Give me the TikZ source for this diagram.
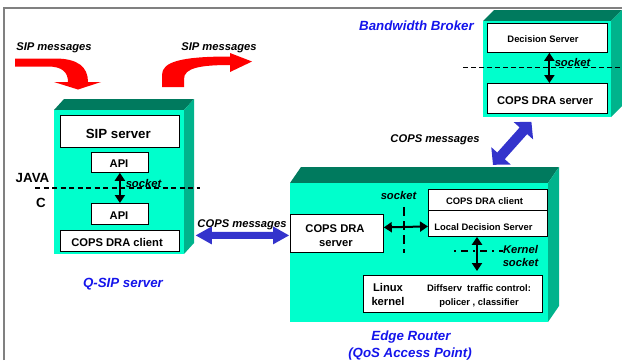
\documentclass[tikz,border=0pt]{standalone}
\usepackage{fontspec}
\setmainfont{Liberation Sans}
\usetikzlibrary{arrows.meta,calc}
\definecolor{frontc}{RGB}{0,255,204}
\definecolor{topc}{RGB}{0,122,94}
\definecolor{sidec}{RGB}{0,179,140}
\definecolor{copsblue}{RGB}{51,51,204}
\definecolor{lblblue}{RGB}{20,20,235}
\definecolor{framegray}{RGB}{128,128,128}
\definecolor{sipred}{RGB}{255,0,0}
\newcommand\cubebox[6]{%
  \fill[topc] (#1,#2) -- ++(#5,#6) -- ++({#3-(#1)},0) -- (#3,#2) -- cycle;
  \fill[sidec] (#3,#2) -- ++(#5,#6) -- ++(0,{#4-(#2)}) -- (#3,#4) -- cycle;
  \fill[frontc] (#1,#2) rectangle (#3,#4);
}
\newcommand\fatarrow[5]{%
  \coordinate (fa1) at ($(#1)!#3!(#2)$);
  \coordinate (fa2) at ($(#2)!#3!(#1)$);
  \fill[copsblue] (#1) -- ($(fa1)!#4!90:(#2)$) -- ($(fa1)!#5!90:(#2)$)
    -- ($(fa2)!#5!-90:(#1)$) -- ($(fa2)!#4!-90:(#1)$) -- (#2)
    -- ($(fa2)!#4!90:(#1)$) -- ($(fa2)!#5!90:(#1)$)
    -- ($(fa1)!#5!-90:(#2)$) -- ($(fa1)!#4!-90:(#2)$) -- cycle;
}
\tikzset{
  wbox/.style={draw=black, line width=0.8pt, fill=white, inner sep=0pt, anchor=north west},
  tbig/.style={font=\fontsize{13.3}{16}\selectfont\bfseries, inner sep=0pt, anchor=base},
  tbigi/.style={font=\fontsize{13.3}{16}\selectfont\bfseries\itshape, inner sep=0pt, anchor=base},
  tmed/.style={font=\fontsize{11.2}{14}\selectfont\bfseries, inner sep=0pt, anchor=base},
  tmedi/.style={font=\fontsize{11.2}{14}\selectfont\bfseries\itshape, inner sep=0pt, anchor=base},
  tsmall/.style={font=\fontsize{9.4}{12}\selectfont\bfseries, inner sep=0pt, anchor=base},
  dbl/.style={<->, >={Triangle[length=8pt,width=10pt]}, line width=2pt},
  dashL/.style={dash pattern=on 5pt off 3.5pt, line width=1.8pt},
  dashV/.style={dash pattern=on 9pt off 5pt, line width=2.2pt},
  dashH/.style={dash pattern=on 2pt off 5pt on 7pt off 5pt, line width=2.2pt},
  dashT/.style={dash pattern=on 5pt off 3pt, line width=1pt},
}
\begin{document}
\begin{tikzpicture}[x=1pt,y=-1pt]
\useasboundingbox (0,0) rectangle (622,360);
\draw[framegray, line width=2pt] (4,360) -- (4,8) -- (622,8);

% SIP message arrows
\fill[sipred] (15,58.5) -- (55,58.5) .. controls (78,58.5) and (88,67) .. (88,82)
  -- (101,82) -- (78,89.5) -- (54,82) -- (68,82)
  .. controls (68,72) and (62,66.5) .. (48,66.5) -- (15,66.5) -- cycle;
\fill[sipred] (162,87) -- (162,75) .. controls (162,62) and (180,56.5) .. (230,56.5)
  -- (230,53) -- (252,61.5) -- (230,72) -- (230,65)
  .. controls (200,65) and (184,68) .. (184,79) -- (184,87) -- cycle;

% 3D boxes
\cubebox{54}{110}{184}{254}{10}{-11}
\cubebox{290}{183}{548}{322}{11}{-16}
\cubebox{483}{21}{611}{117}{11}{-11}

% Q-SIP server inner boxes
\node[wbox, minimum width=119, minimum height=32] (sipsrv) at (60,115) {};
\node[wbox, minimum width=57, minimum height=20] (api1) at (91,152) {};
\node[wbox, minimum width=57, minimum height=21] (api2) at (91,203) {};
\node[wbox, minimum width=119, minimum height=21] (clientL) at (60,230) {};

% Edge router inner boxes
\node[wbox, minimum width=93, minimum height=38] (drasrv) at (290,214) {};
\node[wbox, minimum width=119, minimum height=21] (erclient) at (428,189) {};
\node[wbox, minimum width=119, minimum height=26] (lds) at (428,210) {};
\node[wbox, minimum width=179, minimum height=37] (linux) at (363,275) {};

% Bandwidth broker inner boxes
\node[wbox, minimum width=120, minimum height=29] (decsrv) at (487,23) {};
\node[wbox, minimum width=120, minimum height=30] (bbdra) at (487,83) {};

% dashed boundaries
\draw[dashL] (35,188) -- (200,188);
\draw[dashV] (404,207) -- (404,253);
\draw[dashH] (454,251) -- (503,251);
\draw[dashT] (463,67) -- (622,67);

% black socket arrows
\draw[dbl] (api1.south) -- (api2.north);
\draw[dbl] ($(decsrv.south)+(2,0)$) -- ($(bbdra.north)+(2,0)$);
\draw[dbl] ($(drasrv.east)+(0,-6)$) -- ($(lds.west)+(0,3)$);
\draw[dbl] ($(lds.south west)+(49,0)$) -- ($(linux.north west)+(114,-4)$);

% COPS arrows
\coordinate (hL) at ($(clientL.east)+(16,-5.5)$);
\coordinate (hR) at ($(drasrv.west)+(-1,2)$);
\fatarrow{hL}{hR}{16pt}{9pt}{3.5pt}
\coordinate (dA) at ($(bbdra.south west)+(6,51)$);
\coordinate (dB) at ($(bbdra.south)+(-16,8)$);
\fatarrow{dA}{dB}{12pt}{13pt}{5pt}

% texts
\node[tmedi] (sipm1) at (54,50) {SIP messages};
\node[tmedi] (sipm2) at (219,50) {SIP messages};
\node[tbig] (sipt) at (118.3,138.7) {SIP server};
\node[tmed] (api1t) at (119,167.7) {API};
\node[tmed] (api2t) at (119,219.3) {API};
\node[tmed] (clLt) at (117,246) {COPS DRA client};
\node[tbig] (java) at (32.5,182) {JAVA};
\node[tbig] (cl) at (41,207) {C};
\node[tmedi] (sock1) at (143.5,187) {socket};
\node[tmedi] (copsm1) at (242,227) {COPS messages};
\node[tbigi, text=lblblue] (qsip) at (123,287) {Q-SIP server};

\node[tmed] (dra1) at (335,232.3) {COPS DRA};
\node[tmed] (dra2) at (336,246) {server};
\node[tmedi] (sock2) at (398.5,199.3) {socket};
\node[tsmall] (clt) at (484.5,204) {COPS DRA client};
\node[tsmall] (ldst) at (483.5,230) {Local Decision Server};
\node[tmedi] (kern1) at (520.5,253.3) {Kernel};
\node[tmedi] (kern2) at (520.5,266.7) {socket};
\node[tmed] (lin1) at (388,291) {Linux};
\node[tmed] (lin2) at (388,305) {kernel};
\node[tsmall] (diff1) at (479,291.7) {Diffserv\ \ traffic control:};
\node[tsmall] (diff2) at (479,305) {policer , classifier};
\node[tbigi, text=lblblue] (erl1) at (411,340.5) {Edge Router};
\node[tbigi, text=lblblue] (erl2) at (410,357.5) {(QoS Access Point)};

\node[tbigi, text=lblblue] (bbl) at (416.5,30.7) {Bandwidth Broker};
\node[tsmall] (dst) at (543,42) {Decision Server};
\node[tmedi] (sock3) at (572.5,66) {socket};
\node[tmed] (bbdt) at (545,104) {COPS DRA server};
\node[tmedi] (copsm2) at (435,142.7) {COPS messages};
\end{tikzpicture}
\end{document}
